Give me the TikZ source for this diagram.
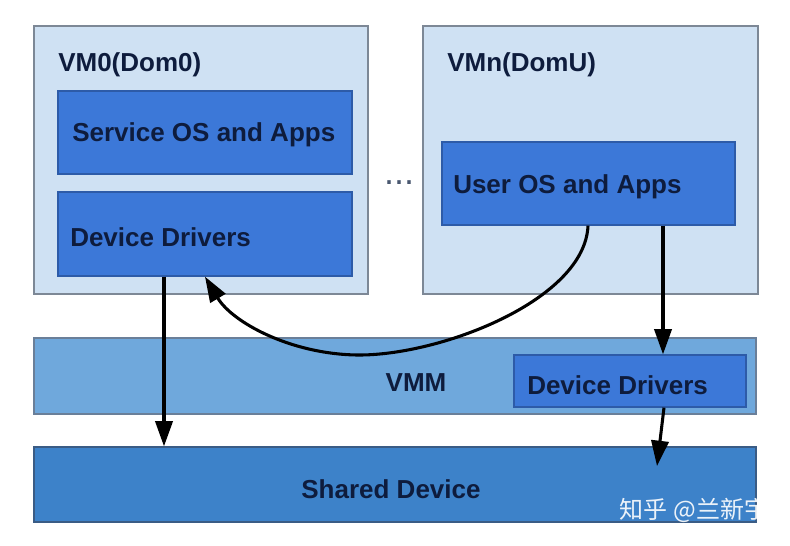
\documentclass[tikz,border=0pt]{standalone}
\usepackage{fontspec}
\setmainfont{Liberation Sans}
\newfontfamily\cjk{Noto Sans CJK SC}
\usetikzlibrary{fit,arrows.meta}
\definecolor{vmfill}{HTML}{CFE1F3}
\definecolor{vmline}{HTML}{7D8896}
\definecolor{innerfill}{HTML}{3C78D8}
\definecolor{innerline}{HTML}{2D5BA8}
\definecolor{vmmfill}{HTML}{6FA8DC}
\definecolor{vmmline}{HTML}{6A7F99}
\definecolor{sharedfill}{HTML}{3D82C9}
\definecolor{sharedline}{HTML}{3A5C85}
\definecolor{txt}{HTML}{0E1C3D}
\definecolor{dotc}{HTML}{4A5870}
\begin{document}
\begin{tikzpicture}[x=0.75pt,y=-0.75pt,
  vmbox/.style={draw=vmline,fill=vmfill,line width=1pt,inner sep=0pt},
  innerbox/.style={draw=innerline,fill=innerfill,line width=1pt,inner sep=0pt},
  vmmbox/.style={draw=vmmline,fill=vmmfill,line width=1pt,inner sep=0pt},
  sharedbox/.style={draw=sharedline,fill=sharedfill,line width=1pt,inner sep=0pt},
  lbl/.style={font=\fontsize{19.5}{23}\selectfont\bfseries,text=txt,inner sep=0pt},
  arr/.style={line width=2.3pt,draw=black,-{Triangle[length=19pt,width=13pt]}}]
\useasboundingbox[fill=white] (0,0) rectangle (790,546);
% VM boxes
\node[vmbox,fit={(34,26)(368,294)}] (vm0) {};
\node[vmbox,fit={(423,26)(758,294)}] (vmn) {};
\node[innerbox,fit={(58,91)(352,174)}] (sos) {};
\node[innerbox,fit={(58,192)(352,276)}] (dd0) {};
\node[innerbox,fit={(442,142)(735,225)}] (uos) {};
% VMM and shared device
\node[vmmbox,fit={(34,338)(756,414)}] (vmm) {};
\node[innerbox,fit={(514,355)(746,407)}] (ddv) {};
\node[sharedbox,fit={(34,447)(756,522)}] (shared) {};
% labels
\node[lbl,anchor=west] (t0) at (58,65) {VM0(Dom0)};
\node[lbl,anchor=west] (t1) at (72,135) {Service OS and Apps};
\node[lbl,anchor=west] (t2) at (70,237) {Device Drivers};
\node[lbl,anchor=west] (t3) at (447,65) {VMn(DomU)};
\node[lbl,anchor=west] (t4) at (453,187) {User OS and Apps};
\node[lbl] (t5) at (416,383) {VMM};
\node[lbl,anchor=west] (t6) at (527,385) {Device Drivers};
\node[lbl] (t7) at (391,489) {Shared Device};
\node[font=\fontsize{27}{30}\selectfont,text=dotc,inner sep=0pt] (dots) at (399,183) {...};
% connectors
\coordinate (xa) at (164,0);
\coordinate (xb) at (588,0);
\coordinate (xc) at (205,0);
\coordinate (xd) at (663,0);
\coordinate (xe) at (664,0);
\coordinate (tipe) at (657,466);
\draw[arr] (dd0.south -| xa) -- (shared.north -| xa);
\draw[arr] (uos.south -| xb) .. controls (585,300) and (440,356) .. (357,355)
  .. controls (290,354) and (232,322) .. (dd0.south -| xc);
\draw[arr] (uos.south -| xd) -- (ddv.north -| xd);
\draw[arr] (ddv.south -| xe) -- (tipe);
% watermark
\node[font=\cjk\fontsize{18}{20}\selectfont,text=white,opacity=0.9,inner sep=0pt] (wm) at (694,510) {知乎 @兰新宇};
\end{tikzpicture}
\end{document}
